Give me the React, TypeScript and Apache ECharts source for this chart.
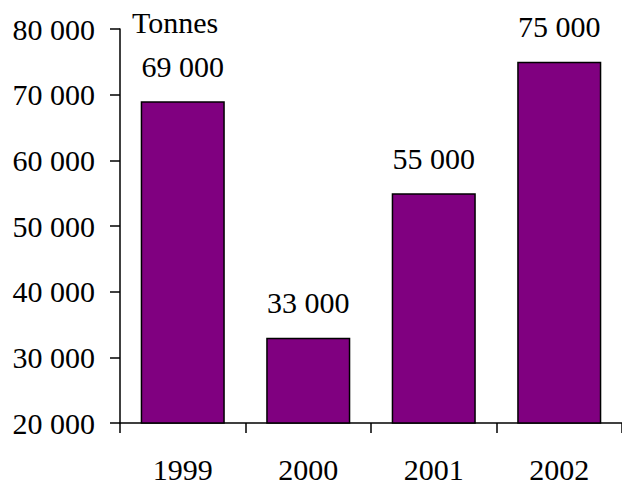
import React, { useEffect, useRef } from "react";
import * as echarts from "echarts";

const categories = ["1999", "2000", "2001", "2002"];
const values = [69000, 33000, 55000, 75000];
const unitLabel = "Tonnes";
const yMin = 20000;
const yMax = 80000;
const yInterval = 10000;

const fmt = (v: number) => {
  const s = String(Math.round(v));
  return s.replace(/\B(?=(\d{3})+(?!\d))/g, " ");
};

export default function App() {
  const ref = useRef<HTMLDivElement>(null);
  useEffect(() => {
    if (!ref.current) return;
    const chart = echarts.init(ref.current, null, { renderer: "svg" });
    const font = "'Liberation Serif', 'Times New Roman', serif";
    chart.setOption({
      animation: false,
      backgroundColor: "#ffffff",
      grid: { left: 120, right: -3, top: 29, bottom: 62, containLabel: false },
      xAxis: {
        type: "category",
        data: categories,
        axisLine: { show: true, lineStyle: { color: "#000", width: 1.5 } },
        axisTick: { show: true, inside: false, length: 10, alignWithLabel: false, lineStyle: { color: "#000", width: 1.5 } },
        axisLabel: { color: "#000", fontFamily: font, fontSize: 30, margin: 31 },
        splitLine: { show: false },
      },
      yAxis: {
        type: "value",
        min: yMin,
        max: yMax,
        interval: yInterval,
        axisLine: { show: true, lineStyle: { color: "#000", width: 1.5 } },
        axisTick: { show: true, inside: false, length: 10, lineStyle: { color: "#000", width: 1.5 } },
        axisLabel: { color: "#000", fontFamily: font, fontSize: 30, margin: 25, formatter: (v: number) => fmt(v) },
        splitLine: { show: false },
      },
      graphic: [
        {
          type: "text",
          left: 132,
          top: 7,
          style: { text: unitLabel, fill: "#000", font: `30px ${font}` },
        },
      ],
      series: [
        {
          type: "bar",
          data: values,
          barCategoryGap: "33%",
          itemStyle: { color: "#800080", borderColor: "#000", borderWidth: 1.5 },
          label: {
            show: true,
            position: "top",
            distance: 20,
            color: "#000",
            fontFamily: font,
            fontSize: 30,
            formatter: (p: any) => fmt(p.value),
          },
        },
      ],
    });
    return () => chart.dispose();
  }, []);
  return (
    <div
      ref={ref}
      style={{ position: "absolute", left: 0, top: 0, width: 622, height: 485, background: "#fff" }}
    />
  );
}
